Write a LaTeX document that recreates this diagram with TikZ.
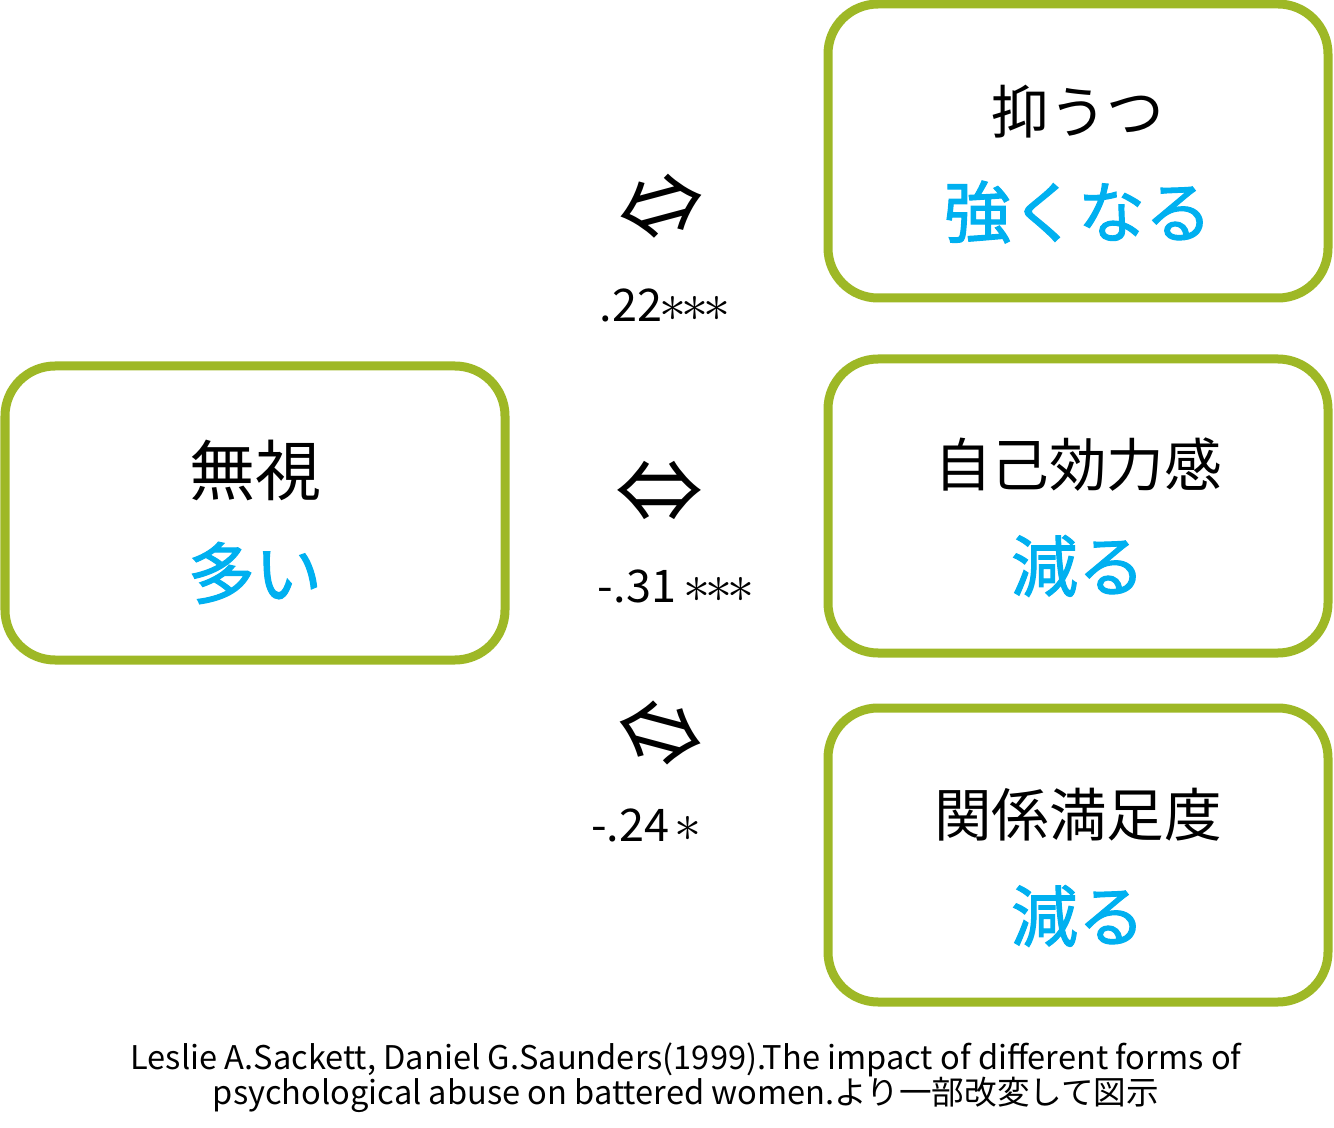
\documentclass[tikz,border=0pt]{standalone}
\usepackage{fontspec}
\usepackage{graphicx}
\newfontfamily\jpfont{Noto Sans CJK JP}
\newfontfamily\jpmedfont[FakeBold=1.6]{Noto Sans CJK JP}
\usetikzlibrary{positioning,calc}
\definecolor{boxgreen}{RGB}{158,184,38}
\definecolor{textblue}{RGB}{0,176,240}
\tikzset{
    every picture/.style={line width=0.75pt},
    factorbox/.style={draw=boxgreen, line width=4.5pt, rounded corners=25pt,
        minimum width=250pt, minimum height=147pt},
    termtext/.style={font=\jpfont\fontsize{28.8pt}{32pt}\selectfont, inner sep=0pt},
    effecttext/.style={font=\jpmedfont\fontsize{33.5pt}{36pt}\selectfont,
        text=textblue, inner sep=0pt},
    corrsym/.style={font=\jpfont\fontsize{44pt}{46pt}\selectfont, inner sep=0pt},
    corrval/.style={font=\jpfont\fontsize{22.5pt}{25pt}\selectfont, inner sep=0pt}
}
\newcommand{\sig}{\makebox[11pt]{\scalebox{1.3}{\(\ast\)}}}

\begin{document}
\begin{tikzpicture}[x=0.5pt, y=-0.5pt]
    \useasboundingbox (0,0) rectangle (1334,1128);

    % boxes
    \node[factorbox] (neglect) at (255,513) {};
    \node[factorbox] (depress) at (1078,151) {};
    \node[factorbox] (efficacy) at (1078,506) {};
    \node[factorbox] (satisf) at (1078,855) {};

    % box texts
    \node[termtext, font=\jpfont\fontsize{33pt}{36pt}\selectfont] (neglect-t) at ($(neglect.center)+(0,-43)$) {無視};
    \node[effecttext] (neglect-e) at ($(neglect.center)+(0,60)$) {多い};
    \node[termtext] (depress-t) at ($(depress.center)+(0,-39)$) {抑うつ};
    \node[effecttext] (depress-e) at ($(depress.center)+(0,61)$) {強くなる};
    \node[termtext] (efficacy-t) at ($(efficacy.center)+(0,-41)$) {自己効力感};
    \node[effecttext] (efficacy-e) at ($(efficacy.center)+(0,60)$) {減る};
    \node[termtext] (satisf-t) at ($(satisf.center)+(0,-40)$) {関係満足度};
    \node[effecttext] (satisf-e) at ($(satisf.center)+(0,61)$) {減る};

    % correlations
    \node[corrsym, rotate=15] (r1) at (662,208) {⇔};
    \node[corrval, anchor=base] (v1) at (664,322) {.22\sig\sig\sig};
    \node[corrsym] (r2) at (659,492) {⇔};
    \node[corrval, anchor=base] (v2) at (675,603) {-.31 \sig\sig\sig};
    \node[corrsym, rotate=-15] (r3) at (660,735) {⇔};
    \node[corrval, anchor=base] (v3) at (645,841) {-.24\,\sig};

    % source
    \node[font=\jpfont\fontsize{16.3pt}{17.5pt}\selectfont, align=center, inner sep=0pt] (source) at (686,1078)
        {Leslie A.Sackett, Daniel G.Saunders(1999).The impact of different forms of\\
         psychological abuse on battered women.より一部改変して図示};
\end{tikzpicture}
\end{document}
